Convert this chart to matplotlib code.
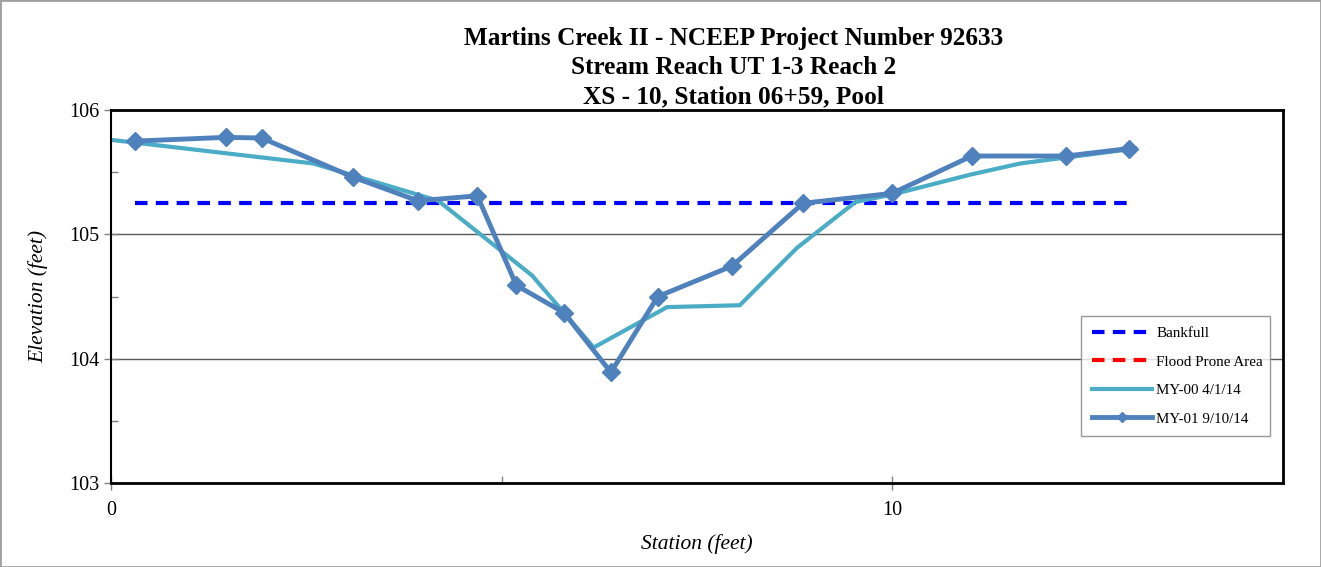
import numpy as np
import matplotlib.pyplot as plt
from matplotlib.patches import Rectangle

plt.rcParams['font.family'] = ['Liberation Serif', 'DejaVu Serif']

# survey data
my00_x = [0.0, 2.59, 4.19, 5.39, 6.18, 7.12, 8.05, 8.78, 9.53, 10.0, 11.0, 11.64, 13.11]
my00_y = [105.76, 105.57, 105.27, 104.67, 104.09, 104.415, 104.43, 104.89, 105.26, 105.32, 105.48, 105.57, 105.69]

my01_x = [0.31, 1.47, 1.93, 3.10, 3.93, 4.69, 5.19, 5.80, 6.40, 7.00, 7.95, 8.86, 10.0, 11.02, 12.23, 13.03]
my01_y = [105.75, 105.78, 105.775, 105.46, 105.27, 105.31, 104.59, 104.37, 103.89, 104.50, 104.745, 105.25, 105.33, 105.63, 105.63, 105.69]

bankfull_x = [0.31, 13.06]
bankfull_y = [105.25, 105.25]

title_lines = ["Martins Creek II - NCEEP Project Number 92633",
               "Stream Reach UT 1-3 Reach 2",
               "XS - 10, Station 06+59, Pool"]

fig = plt.figure(figsize=(13.21, 5.67), dpi=100)
ax = fig.add_axes([0.084, 0.148, 0.887, 0.658])

ax.plot(bankfull_x, bankfull_y, color='#0000FF', lw=3, ls=(0, (3, 2)), label='Bankfull')
ax.plot([], [], color='#FF0000', lw=3, ls=(0, (3, 2)), label='Flood Prone Area')
ax.plot(my00_x, my00_y, color='#4BACC6', lw=3, label='MY-00 4/1/14')
ax.plot(my01_x, my01_y, color='#4F81BD', lw=3.5, marker='D', ms=9, label='MY-01 9/10/14')

ax.set_xlim(0, 15)
ax.set_ylim(103, 106)
ax.set_xticks([0, 10])
ax.set_xticks([5], minor=True)
ax.set_yticks([103, 104, 105, 106])
ax.set_yticks([103.5, 104.5, 105.5], minor=True)
ax.grid(axis='y', which='major', color='#595959', lw=1)
ax.set_axisbelow(True)

ax.tick_params(axis='both', which='major', direction='inout', length=10, width=1,
               labelsize=14.5, color='#808080')
ax.tick_params(axis='x', which='major', pad=8)
ax.tick_params(axis='both', which='minor', direction='in', length=5, width=1, color='#808080')

for side in ['top', 'right', 'bottom']:
    ax.spines[side].set_linewidth(2)
ax.spines['left'].set_linewidth(1.5)

ax.set_xlabel('Station (feet)', fontsize=15.5, style='italic', labelpad=10)
ax.set_ylabel('Elevation (feet)', fontsize=15.5, style='italic', labelpad=15)

leg = ax.legend(loc='lower left', bbox_to_anchor=(0.828, 0.126, 0.161, 0.316), mode='expand',
                fontsize=10.8, handlelength=4, handletextpad=0.3, labelspacing=1.0,
                frameon=True, fancybox=False, borderpad=0.7, borderaxespad=0)
leg.get_frame().set_edgecolor('#808080')
leg.get_frame().set_linewidth(1)
for h in leg.legend_handles:
    if h.get_marker() == 'D':
        h.set_markersize(5)

ys = [0.932, 0.881, 0.829]
for t, y in zip(title_lines, ys):
    fig.text(0.555, y, t, ha='center', va='center', fontsize=18.2, fontweight='bold')

fig.patches.append(Rectangle((0, 0), 1, 1, transform=fig.transFigure, fill=False,
                             edgecolor='#A0A0A0', lw=2))

plt.savefig('out.png')
